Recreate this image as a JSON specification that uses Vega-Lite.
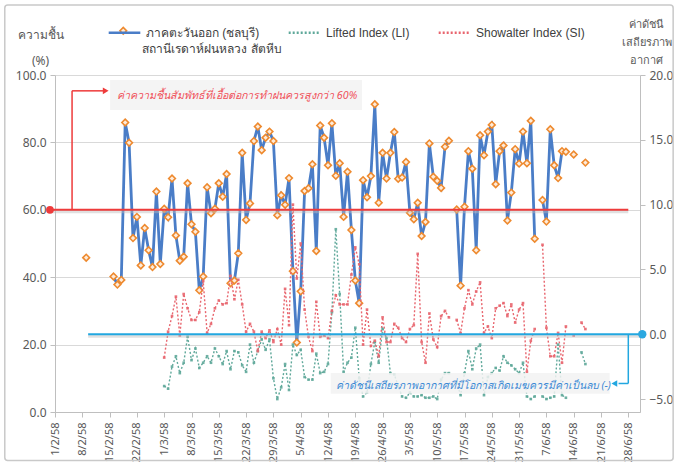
{
"$schema":"https://vega.github.io/schema/vega-lite/v6.json",
"width":585,"height":337,
"autosize":{"type":"none"},
"padding":{"left":55,"top":75,"right":37,"bottom":54},
"background":"#ffffff",
"config":{"view":{"stroke":null},"font":"Noto Sans, DejaVu Sans, sans-serif",
 "axis":{"labelColor":"#595959","titleColor":"#595959","domainColor":"#BFBFBF","tickColor":"#BFBFBF","gridColor":"#D9D9D9","labelFontSize":12,"titleFontWeight":"normal"}},
"datasets":{"t":[
{"d":"2015-02-09","h":45.8,"li":null,"si":null},
{"d":"2015-02-12","h":null,"li":null,"si":null},
{"d":"2015-02-16","h":40.2,"li":null,"si":null},
{"d":"2015-02-17","h":37.8,"li":null,"si":null},
{"d":"2015-02-18","h":39.2,"li":null,"si":null},
{"d":"2015-02-19","h":85.9,"li":null,"si":null},
{"d":"2015-02-20","h":79.9,"li":null,"si":null},
{"d":"2015-02-21","h":51.6,"li":null,"si":null},
{"d":"2015-02-22","h":57.9,"li":null,"si":null},
{"d":"2015-02-23","h":43.5,"li":null,"si":null},
{"d":"2015-02-24","h":54.6,"li":null,"si":null},
{"d":"2015-02-25","h":48.0,"li":null,"si":null},
{"d":"2015-02-26","h":43.0,"li":null,"si":null},
{"d":"2015-02-27","h":65.4,"li":null,"si":null},
{"d":"2015-02-28","h":43.9,"li":null,"si":null},
{"d":"2015-03-01","h":60.3,"li":-4.0,"si":-1.8},
{"d":"2015-03-02","h":57.8,"li":-4.2,"si":0.2},
{"d":"2015-03-03","h":69.3,"li":-2.5,"si":1.4},
{"d":"2015-03-04","h":52.4,"li":-1.7,"si":2.9},
{"d":"2015-03-05","h":44.9,"li":-3.0,"si":-0.1},
{"d":"2015-03-06","h":46.1,"li":-2.2,"si":3.1},
{"d":"2015-03-07","h":67.9,"li":-0.2,"si":2.0},
{"d":"2015-03-08","h":55.7,"li":-2.0,"si":1.1},
{"d":"2015-03-09","h":53.5,"li":-1.1,"si":1.1},
{"d":"2015-03-10","h":36.1,"li":-2.6,"si":1.7},
{"d":"2015-03-11","h":40.2,"li":-2.2,"si":4.1},
{"d":"2015-03-12","h":66.7,"li":-1.7,"si":0.1},
{"d":"2015-03-13","h":59.0,"li":-2.2,"si":0.8},
{"d":"2015-03-14","h":60.3,"li":-1.1,"si":2.0},
{"d":"2015-03-15","h":67.9,"li":-1.7,"si":2.6},
{"d":"2015-03-16","h":63.9,"li":-2.3,"si":2.3},
{"d":"2015-03-17","h":70.6,"li":-1.3,"si":2.4},
{"d":"2015-03-18","h":38.2,"li":-2.7,"si":4.5},
{"d":"2015-03-19","h":39.0,"li":-1.3,"si":2.7},
{"d":"2015-03-20","h":47.1,"li":-1.4,"si":4.2},
{"d":"2015-03-21","h":76.9,"li":-2.4,"si":2.3},
{"d":"2015-03-22","h":57.0,"li":-2.9,"si":0.2},
{"d":"2015-03-23","h":61.9,"li":-0.8,"si":0.8},
{"d":"2015-03-24","h":80.4,"li":-2.2,"si":0.2},
{"d":"2015-03-25","h":84.7,"li":-1.3,"si":-1.3},
{"d":"2015-03-26","h":77.7,"li":-0.4,"si":0.2},
{"d":"2015-03-27","h":81.4,"li":-1.2,"si":-0.3},
{"d":"2015-03-28","h":83.2,"li":-0.4,"si":0.3},
{"d":"2015-03-29","h":80.4,"li":-3.4,"si":-0.6},
{"d":"2015-03-30","h":58.4,"li":-5.0,"si":0.4},
{"d":"2015-03-31","h":64.3,"li":-4.1,"si":-0.8},
{"d":"2015-04-01","h":61.5,"li":-2.3,"si":3.5},
{"d":"2015-04-02","h":69.4,"li":-4.3,"si":0.7},
{"d":"2015-04-03","h":41.8,"li":-0.8,"si":10.0},
{"d":"2015-04-04","h":20.6,"li":-1.6,"si":4.3},
{"d":"2015-04-05","h":35.8,"li":-1.2,"si":7.0},
{"d":"2015-04-06","h":65.6,"li":-3.3,"si":1.9},
{"d":"2015-04-07","h":66.4,"li":-3.5,"si":-0.2},
{"d":"2015-04-08","h":73.5,"li":-3.5,"si":-1.3},
{"d":"2015-04-09","h":47.8,"li":-1.5,"si":2.5},
{"d":"2015-04-10","h":85.0,"li":-3.0,"si":-0.2},
{"d":"2015-04-11","h":81.4,"li":-2.9,"si":-0.1},
{"d":"2015-04-12","h":73.2,"li":-2.3,"si":-0.3},
{"d":"2015-04-13","h":85.7,"li":1.7,"si":1.8},
{"d":"2015-04-14","h":70.1,"li":8.1,"si":3.0},
{"d":"2015-04-15","h":73.8,"li":3.1,"si":2.3},
{"d":"2015-04-16","h":57.9,"li":-2.9,"si":2.3},
{"d":"2015-04-17","h":71.3,"li":-2.2,"si":2.3},
{"d":"2015-04-18","h":54.0,"li":-1.8,"si":4.6},
{"d":"2015-04-19","h":39.0,"li":0.5,"si":6.7},
{"d":"2015-04-20","h":32.3,"li":-3.4,"si":5.4},
{"d":"2015-04-21","h":68.8,"li":-4.8,"si":-0.8},
{"d":"2015-04-22","h":63.7,"li":-4.5,"si":1.9},
{"d":"2015-04-23","h":70.0,"li":-2.3,"si":-0.9},
{"d":"2015-04-24","h":91.3,"li":-0.6,"si":-0.5},
{"d":"2015-04-25","h":62.1,"li":-2.2,"si":-1.7},
{"d":"2015-04-26","h":76.9,"li":0.4,"si":1.3},
{"d":"2015-04-27","h":69.3,"li":-0.3,"si":-0.6},
{"d":"2015-04-28","h":76.9,"li":-3.0,"si":-0.6},
{"d":"2015-04-29","h":83.1,"li":-3.1,"si":0.8},
{"d":"2015-04-30","h":69.2,"li":-4.0,"si":0.5},
{"d":"2015-05-01","h":69.6,"li":-4.8,"si":-0.3},
{"d":"2015-05-02","h":74.2,"li":-4.9,"si":-0.6},
{"d":"2015-05-03","h":59.1,"li":-4.5,"si":0.4},
{"d":"2015-05-04","h":57.2,"li":-4.8,"si":0.7},
{"d":"2015-05-05","h":62.1,"li":-4.8,"si":6.2},
{"d":"2015-05-06","h":52.2,"li":-4.7,"si":-0.6},
{"d":"2015-05-07","h":56.4,"li":-4.9,"si":-2.2},
{"d":"2015-05-08","h":79.7,"li":-4.9,"si":1.6},
{"d":"2015-05-09","h":69.8,"li":-4.8,"si":-0.4},
{"d":"2015-05-10","h":68.6,"li":-5.0,"si":-1.0},
{"d":"2015-05-11","h":66.5,"li":-3.5,"si":1.4},
{"d":"2015-05-12","h":78.7,"li":-3.0,"si":1.8},
{"d":"2015-05-13","h":80.5,"li":-3.0,"si":1.3},
{"d":"2015-05-14","h":null,"li":null,"si":null},
{"d":"2015-05-15","h":60.1,"li":-3.7,"si":1.1},
{"d":"2015-05-16","h":37.5,"li":-4.7,"si":0.1},
{"d":"2015-05-17","h":60.9,"li":-3.0,"si":2.0},
{"d":"2015-05-18","h":77.4,"li":-1.3,"si":3.4},
{"d":"2015-05-19","h":72.2,"li":-2.7,"si":2.3},
{"d":"2015-05-20","h":48.0,"li":-1.1,"si":3.3},
{"d":"2015-05-21","h":82.1,"li":-0.8,"si":4.0},
{"d":"2015-05-22","h":76.2,"li":-4.7,"si":0.1},
{"d":"2015-05-23","h":83.2,"li":-3.3,"si":0.6},
{"d":"2015-05-24","h":85.2,"li":-3.0,"si":-0.3},
{"d":"2015-05-25","h":67.6,"li":-2.6,"si":2.0},
{"d":"2015-05-26","h":77.4,"li":-2.8,"si":2.2},
{"d":"2015-05-27","h":79.1,"li":-1.7,"si":2.4},
{"d":"2015-05-28","h":56.8,"li":-2.2,"si":1.4},
{"d":"2015-05-29","h":65.1,"li":-2.4,"si":2.3},
{"d":"2015-05-30","h":78.0,"li":-2.7,"si":0.9},
{"d":"2015-05-31","h":73.7,"li":-3.0,"si":1.9},
{"d":"2015-06-01","h":83.2,"li":-2.2,"si":2.4},
{"d":"2015-06-02","h":73.8,"li":-4.8,"si":-2.9},
{"d":"2015-06-03","h":86.4,"li":-5.0,"si":-0.5},
{"d":"2015-06-04","h":51.4,"li":-4.8,"si":0.4},
{"d":"2015-06-05","h":null,"li":null,"si":null},
{"d":"2015-06-06","h":62.9,"li":-4.8,"si":6.9},
{"d":"2015-06-07","h":56.5,"li":-5.0,"si":0.5},
{"d":"2015-06-08","h":83.9,"li":-4.9,"si":-1.7},
{"d":"2015-06-09","h":73.2,"li":-4.8,"si":-1.7},
{"d":"2015-06-10","h":69.4,"li":-0.8,"si":0.1},
{"d":"2015-06-11","h":77.4,"li":-4.7,"si":-2.2},
{"d":"2015-06-12","h":77.2,"li":-4.9,"si":0.6},
{"d":"2015-06-13","h":null,"li":null,"si":null},
{"d":"2015-06-14","h":76.4,"li":null,"si":-0.1},
{"d":"2015-06-15","h":null,"li":null,"si":null},
{"d":"2015-06-16","h":null,"li":-1.4,"si":0.9},
{"d":"2015-06-17","h":74.0,"li":-2.3,"si":0.4}
]},
"layer":[
 {"data":{"name":"t"},
  "layer":[
   {"mark":{"type":"line","strokeWidth":2.8},
    "encoding":{
     "x":{"field":"d","type":"temporal","scale":{"type":"utc","domain":[{"year":2015,"month":2,"date":1,"utc":true},{"year":2015,"month":7,"date":1,"utc":true}]},
      "axis":{"title":null,"tickCount":{"interval":"week","step":1},"labelExpr":"utcdate(datum.value) + '/' + (utcmonth(datum.value) + 1) + '/58'","labelAngle":-90,"labelAlign":"right","labelBaseline":"middle","grid":false,"tickSize":5,"labelFontSize":11,"labelPadding":5,"labelFlush":false,"labelOverlap":false}},
     "y":{"field":"h","type":"quantitative","scale":{"domain":[0,100]},
      "axis":{"title":["ความชื้น","(%)"],"titleAngle":0,"titleX":-15,"titleY":-46,"titleAlign":"center","titleBaseline":"top","titleLineHeight":26,"titleFontSize":12,"format":".1f","values":[0,10,20,30,40,50,60,70,80,90,100],"grid":true,"tickSize":5,"labelPadding":4}},
     "color":{"datum":"h","type":"nominal","scale":{"domain":["h","li","si"],"range":["#4A7DC7","#5FA89A","#E8656E"]},
      "legend":{"orient":"none","legendX":52,"legendY":-60,"direction":"horizontal","title":null,"symbolType":"stroke","symbolSize":1000,"symbolStrokeWidth":2.5,"labelFont":"Liberation Sans, Noto Sans","labelFontSize":12,"labelColor":"#404040","columnPadding":23,"labelLimit":300,"labelExpr":"datum.value == 'h' ? 'ภาคตะวันออก (ชลบุรี)        ' : datum.value == 'li' ? 'Lifted Index (LI)' : 'Showalter Index (SI)'"}},
     "strokeDash":{"datum":"h","type":"nominal","scale":{"domain":["h","li","si"],"range":[[1,0],[2,2],[2,2]]},
      "legend":{"orient":"none","legendX":52,"legendY":-60,"direction":"horizontal","title":null,"symbolType":"stroke","symbolSize":1000,"symbolStrokeWidth":2.5,"labelFont":"Liberation Sans, Noto Sans","labelFontSize":12,"labelColor":"#404040","columnPadding":23,"labelLimit":300,"labelExpr":"datum.value == 'h' ? 'ภาคตะวันออก (ชลบุรี)        ' : datum.value == 'li' ? 'Lifted Index (LI)' : 'Showalter Index (SI)'"}}
    }},
   {"mark":{"type":"point","shape":"diamond","filled":true,"fill":"#FDEBDA","stroke":"#EE8A2F","strokeWidth":1.6,"size":45,"opacity":1},
    "encoding":{
     "x":{"field":"d","type":"temporal","scale":{"type":"utc","domain":[{"year":2015,"month":2,"date":1,"utc":true},{"year":2015,"month":7,"date":1,"utc":true}]}},
     "y":{"field":"h","type":"quantitative"}
    }}
  ]},
 {"data":{"name":"t"},
  "transform":[{"fold":["li","si"],"as":["key","val"]}],
  "layer":[
   {"mark":{"type":"line","strokeWidth":1.4},
    "encoding":{
     "x":{"field":"d","type":"temporal","scale":{"type":"utc","domain":[{"year":2015,"month":2,"date":1,"utc":true},{"year":2015,"month":7,"date":1,"utc":true}]}},
     "y":{"field":"val","type":"quantitative","scale":{"domain":[-5,20]},
      "axis":{"orient":"right","title":["ค่าดัชนี","เสถียรภาพ","อากาศ"],"titleAngle":0,"titleX":6,"titleY":-57,"titleAlign":"center","titleBaseline":"top","titleLineHeight":18,"titleFontSize":11,"format":".1f","values":[-5,0,5,10,15,20],"grid":false,"tickSize":5,"labelPadding":4}},
     "color":{"field":"key","type":"nominal","scale":{"domain":["h","li","si"],"range":["#4A7DC7","#5FA89A","#E8656E"]},
      "legend":{"orient":"none","legendX":52,"legendY":-60,"direction":"horizontal","title":null,"symbolType":"stroke","symbolSize":1000,"symbolStrokeWidth":2.5,"labelFont":"Liberation Sans, Noto Sans","labelFontSize":12,"labelColor":"#404040","columnPadding":23,"labelLimit":300,"labelExpr":"datum.value == 'h' ? 'ภาคตะวันออก (ชลบุรี)        ' : datum.value == 'li' ? 'Lifted Index (LI)' : 'Showalter Index (SI)'"}},
     "strokeDash":{"field":"key","type":"nominal","scale":{"domain":["h","li","si"],"range":[[1,0],[2,2],[2,2]]},
      "legend":{"orient":"none","legendX":52,"legendY":-60,"direction":"horizontal","title":null,"symbolType":"stroke","symbolSize":1000,"symbolStrokeWidth":2.5,"labelFont":"Liberation Sans, Noto Sans","labelFontSize":12,"labelColor":"#404040","columnPadding":23,"labelLimit":300,"labelExpr":"datum.value == 'h' ? 'ภาคตะวันออก (ชลบุรี)        ' : datum.value == 'li' ? 'Lifted Index (LI)' : 'Showalter Index (SI)'"}}
    }},
   {"mark":{"type":"point","shape":"square","filled":true,"size":7,"opacity":0.9},
    "encoding":{
     "x":{"field":"d","type":"temporal","scale":{"type":"utc","domain":[{"year":2015,"month":2,"date":1,"utc":true},{"year":2015,"month":7,"date":1,"utc":true}]}},
     "y":{"field":"val","type":"quantitative"},
     "color":{"field":"key","type":"nominal","scale":{"domain":["h","li","si"],"range":["#4A7DC7","#4F8C7E","#D9474F"]},"legend":null}
    }}
  ]},
 {"data":{"values":[{}]},
  "encoding":{"x":{"type":"temporal","scale":{"type":"utc","domain":[{"year":2015,"month":2,"date":1,"utc":true},{"year":2015,"month":7,"date":1,"utc":true}]}}},
  "layer":[
   {"mark":{"type":"rect","filled":false,"stroke":"#C9C9C9","strokeWidth":1.5,"cornerRadius":3},
    "encoding":{"x":{"datum":{"year":2015,"month":1,"date":19,"hours":3,"utc":true},"type":"temporal"},"x2":{"datum":{"year":2015,"month":7,"date":9,"hours":12,"utc":true}},"y":{"datum":120.8,"type":"quantitative","scale":{"domain":[0,100]},"axis":null},"y2":{"datum":-14.4}}},
   {"mark":{"type":"point","shape":"diamond","filled":true,"fill":"#FDEBDA","stroke":"#EE8A2F","strokeWidth":1.6,"size":45,"opacity":1},
    "encoding":{"x":{"datum":{"year":2015,"month":2,"date":18,"hours":12,"utc":true},"type":"temporal"},"y":{"datum":113.1,"type":"quantitative","axis":null}}},
   {"mark":{"type":"text","text":"สถานีเรดาห์ฝนหลวง สัตหีบ","align":"left","baseline":"middle","fontSize":12,"color":"#404040","font":"Liberation Sans, Noto Sans"},
    "encoding":{"x":{"datum":{"year":2015,"month":2,"date":23,"hours":10,"utc":true},"type":"temporal"},"y":{"datum":107.7,"type":"quantitative","axis":null}}},
   {"mark":{"type":"rule","stroke":"#BBBBBB","strokeWidth":3,"opacity":0.45},
    "encoding":{"x":{"datum":{"year":2015,"month":1,"date":30,"hours":17,"utc":true},"type":"temporal"},"x2":{"datum":{"year":2015,"month":6,"date":28,"utc":true}},"y":{"datum":59.4,"type":"quantitative","axis":null}}},
   {"mark":{"type":"rule","stroke":"#EE3B3B","strokeWidth":2},
    "encoding":{"x":{"datum":{"year":2015,"month":1,"date":30,"hours":17,"utc":true},"type":"temporal"},"x2":{"datum":{"year":2015,"month":6,"date":28,"utc":true}},"y":{"datum":60,"type":"quantitative","axis":null}}},
   {"mark":{"type":"point","filled":true,"color":"#EE3B3B","size":60,"opacity":1},
    "encoding":{"x":{"datum":{"year":2015,"month":1,"date":30,"hours":17,"utc":true},"type":"temporal"},"y":{"datum":60,"type":"quantitative","axis":null}}},
   {"mark":{"type":"rule","stroke":"#EE3B3B","strokeWidth":1.5},
    "encoding":{"x":{"datum":{"year":2015,"month":2,"date":5,"hours":9,"utc":true},"type":"temporal"},"y":{"datum":60,"type":"quantitative","axis":null},"y2":{"datum":95.3}}},
   {"mark":{"type":"rule","stroke":"#EE3B3B","strokeWidth":1.5},
    "encoding":{"x":{"datum":{"year":2015,"month":2,"date":5,"hours":9,"utc":true},"type":"temporal"},"x2":{"datum":{"year":2015,"month":2,"date":13,"hours":12,"utc":true}},"y":{"datum":95.3,"type":"quantitative","axis":null}}},
   {"mark":{"type":"point","shape":"triangle-right","filled":true,"color":"#EE3B3B","size":45,"opacity":1},
    "encoding":{"x":{"datum":{"year":2015,"month":2,"date":14,"utc":true},"type":"temporal"},"y":{"datum":95.3,"type":"quantitative","axis":null}}},
   {"mark":{"type":"rect","fill":"#F2F2F2","opacity":0.85},
    "encoding":{"x":{"datum":{"year":2015,"month":2,"date":15,"hours":3,"utc":true},"type":"temporal"},"x2":{"datum":{"year":2015,"month":4,"date":20,"hours":17,"utc":true}},"y":{"datum":89.6,"type":"quantitative","axis":null},"y2":{"datum":98.5}}},
   {"mark":{"type":"text","text":"ค่าความชื้นสัมพัทธ์ที่เอื้อต่อการทำฝนควรสูงกว่า 60%","align":"left","baseline":"middle","fontStyle":"italic","fontSize":10.7,"color":"#F0505A"},
    "encoding":{"x":{"datum":{"year":2015,"month":2,"date":16,"hours":22,"utc":true},"type":"temporal"},"y":{"datum":93.9,"type":"quantitative","axis":null}}}
  ]},
 {"data":{"values":[{}]},
  "layer":[
   {"mark":{"type":"rule","stroke":"#BBBBBB","strokeWidth":3,"opacity":0.45},
    "encoding":{"x":{"datum":{"year":2015,"month":2,"date":9,"hours":12,"utc":true},"type":"temporal","scale":{"type":"utc","domain":[{"year":2015,"month":2,"date":1,"utc":true},{"year":2015,"month":7,"date":1,"utc":true}]}},"x2":{"datum":{"year":2015,"month":7,"date":1,"hours":14,"utc":true}},"y":{"datum":-0.15,"type":"quantitative","scale":{"domain":[-5,20]},"axis":null}}},
   {"mark":{"type":"rule","stroke":"#22A7E0","strokeWidth":2},
    "encoding":{"x":{"datum":{"year":2015,"month":2,"date":9,"hours":12,"utc":true},"type":"temporal"},"x2":{"datum":{"year":2015,"month":7,"date":1,"hours":14,"utc":true}},"y":{"datum":0,"type":"quantitative","axis":null}}},
   {"mark":{"type":"point","filled":true,"color":"#2BA8E0","size":70,"opacity":1},
    "encoding":{"x":{"datum":{"year":2015,"month":7,"date":1,"hours":14,"utc":true},"type":"temporal"},"y":{"datum":0,"type":"quantitative","axis":null}}},
   {"mark":{"type":"rule","stroke":"#22A7E0","strokeWidth":1.5},
    "encoding":{"x":{"datum":{"year":2015,"month":6,"date":28,"utc":true},"type":"temporal"},"y":{"datum":0,"type":"quantitative","axis":null},"y2":{"datum":-3.8}}},
   {"mark":{"type":"rule","stroke":"#22A7E0","strokeWidth":1.5},
    "encoding":{"x":{"datum":{"year":2015,"month":6,"date":28,"utc":true},"type":"temporal"},"x2":{"datum":{"year":2015,"month":6,"date":25,"hours":12,"utc":true}},"y":{"datum":-3.8,"type":"quantitative","axis":null}}},
   {"mark":{"type":"point","shape":"triangle-left","filled":true,"color":"#22A7E0","size":45,"opacity":1},
    "encoding":{"x":{"datum":{"year":2015,"month":6,"date":24,"hours":10,"utc":true},"type":"temporal"},"y":{"datum":-3.8,"type":"quantitative","axis":null}}},
   {"mark":{"type":"rect","fill":"#F2F2F2","opacity":0.85},
    "encoding":{"x":{"datum":{"year":2015,"month":4,"date":12,"hours":17,"utc":true},"type":"temporal"},"x2":{"datum":{"year":2015,"month":6,"date":23,"hours":5,"utc":true}},"y":{"datum":-3.0,"type":"quantitative","axis":null},"y2":{"datum":-4.6}}},
   {"mark":{"type":"text","text":"ค่าดัชนีเสถียรภาพอากาศที่มีโอกาสเกิดเมฆควรมีค่าเป็นลบ (-)","align":"left","baseline":"middle","fontStyle":"italic","fontSize":10.5,"color":"#3C8AD4"},
    "encoding":{"x":{"datum":{"year":2015,"month":4,"date":14,"utc":true},"type":"temporal"},"y":{"datum":-4.0,"type":"quantitative","axis":null}}}
  ]}
],
"resolve":{"scale":{"y":"independent"}}
}
